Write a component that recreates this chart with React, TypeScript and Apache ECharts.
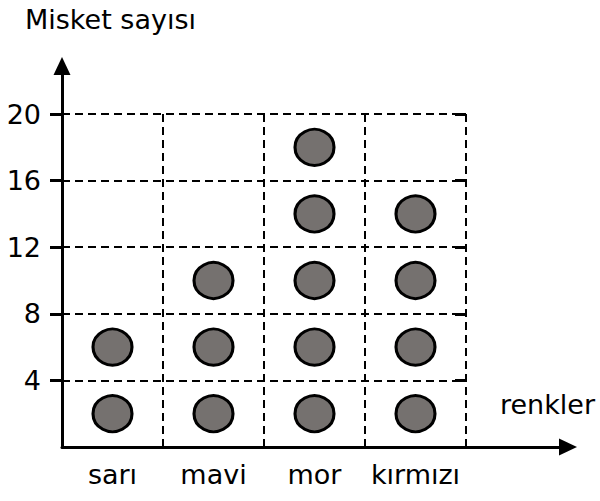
import React, { useEffect, useRef } from "react";
import * as echarts from "echarts";

const categories = ["sarı", "mavi", "mor", "kırmızı"];
const values = [8, 12, 20, 16];
const unitPerSymbol = 4;
const yTicks = [4, 8, 12, 16, 20];
const yTitle = "Misket sayısı";
const xTitle = "renkler";

export default function App() {
  const ref = useRef<HTMLDivElement>(null);
  useEffect(() => {
    if (!ref.current) return;
    const chart = echarts.init(ref.current, undefined, { renderer: "svg" });
    const font = "DejaVu Sans";
    const fs = 27;
    const points: [number, number][] = [];
    values.forEach((v, i) => {
      for (let k = 0; k < v / unitPerSymbol; k++) {
        points.push([i, k * unitPerSymbol + unitPerSymbol / 2]);
      }
    });
    const dash = { color: "#000", width: 2, type: [8, 5] as any };
    const arrowLine = {
      show: true,
      lineStyle: { color: "#000", width: 3 },
      symbol: ["none", "triangle"],
      symbolSize: [17, 18],
    };
    chart.setOption({
      animation: false,
      backgroundColor: "#fff",
      textStyle: { fontFamily: font },
      grid: [
        { left: 62, top: 114, width: 404, height: 333 },
        { left: 62, top: 66, right: 32, bottom: 54 },
      ],
      xAxis: [
        {
          type: "category",
          gridIndex: 0,
          data: categories,
          boundaryGap: true,
          axisLine: { show: false },
          axisTick: { show: false, interval: 0 },
          axisLabel: { color: "#000", fontSize: fs, margin: 14, fontFamily: font, interval: 0, hideOverlap: false },
          splitLine: { show: true, interval: 0, lineStyle: dash },
        },
        {
          type: "value",
          gridIndex: 1,
          min: 0,
          max: 1,
          axisLine: arrowLine,
          axisTick: { show: false },
          axisLabel: { show: false },
          splitLine: { show: false },
        },
      ],
      yAxis: [
        {
          type: "value",
          gridIndex: 0,
          min: 0,
          max: 20,
          interval: 4,
          axisLine: { show: false },
          axisTick: {
            show: true,
            length: 12,
            customValues: yTicks,
            lineStyle: { color: "#000", width: 3 },
          },
          axisLabel: {
            color: "#000",
            fontSize: fs,
            margin: 21,
            fontFamily: font,
            customValues: yTicks,
          },
          splitLine: { show: true, lineStyle: dash },
        },
        {
          type: "value",
          gridIndex: 0,
          min: 0,
          max: 20,
          interval: 4,
          axisLine: { show: false },
          axisTick: {
            show: true,
            inside: true,
            length: 11,
            customValues: yTicks,
            lineStyle: { color: "#000", width: 3 },
          },
          axisLabel: { show: false },
          splitLine: { show: false },
        },
        {
          type: "value",
          gridIndex: 1,
          min: 0,
          max: 1,
          axisLine: arrowLine,
          axisTick: { show: false },
          axisLabel: { show: false },
          splitLine: { show: false },
        },
      ],
      series: [
        {
          type: "scatter",
          xAxisIndex: 0,
          yAxisIndex: 0,
          data: points,
          symbol: "circle",
          symbolSize: [39, 36],
          itemStyle: { color: "#75716f", borderColor: "#000", borderWidth: 3, opacity: 1 },
          z: 5,
        },
      ],
      graphic: [
        {
          type: "text",
          left: 25,
          top: 6,
          style: { text: yTitle, fontSize: fs, fill: "#000", fontFamily: font },
        },
        {
          type: "text",
          left: 500,
          top: 391,
          style: { text: xTitle, fontSize: fs, fill: "#000", fontFamily: font },
        },
      ],
    });
    return () => chart.dispose();
  }, []);
  return <div ref={ref} style={{ width: 600, height: 501, position: "absolute", left: 0, top: 0 }} />;
}
